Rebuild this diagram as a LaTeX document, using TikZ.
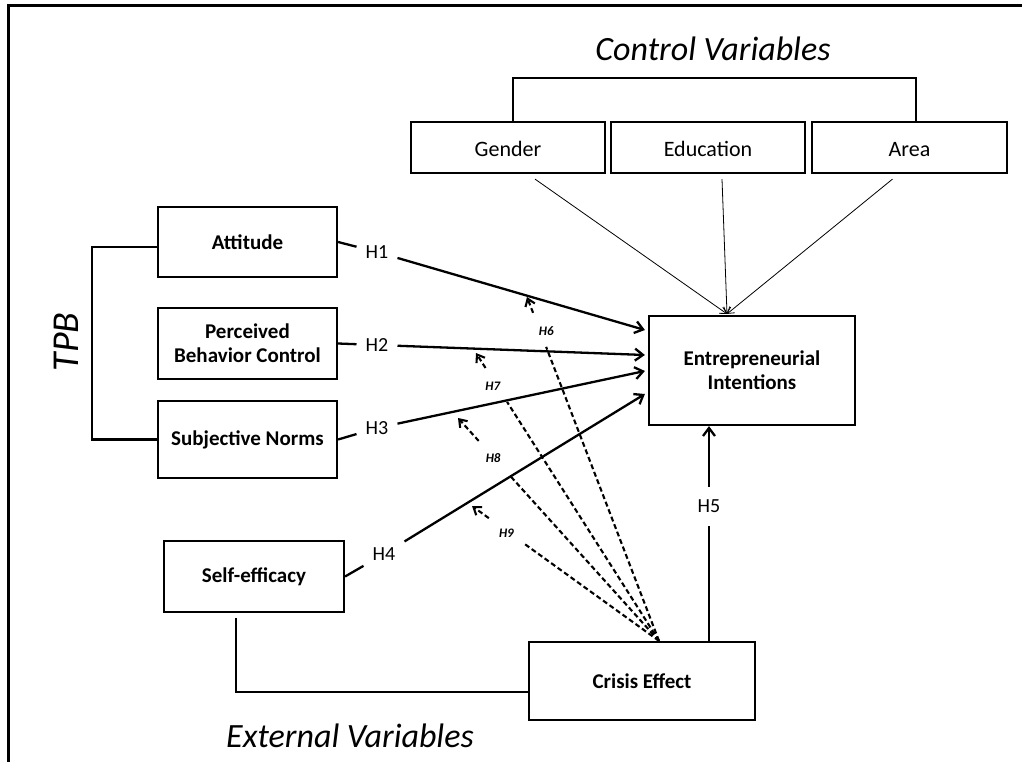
\documentclass[tikz,border=0pt]{standalone}
\usepackage{fontspec}
\setmainfont{Carlito}
\usetikzlibrary{arrows.meta,calc}
\begin{document}
\begin{tikzpicture}[x=1pt,y=-1pt,
  box/.style={draw,line width=2.2pt,inner sep=0pt,align=center,font=\bfseries\fontsize{21}{24}\selectfont},
  cbox/.style={draw,line width=2.2pt,inner sep=0pt,align=center,font=\fontsize{22}{25}\selectfont,minimum width=194pt,minimum height=51pt,text height=20pt,text depth=2pt},
  conn/.style={line width=2.3pt},
  tip/.style={-{Straight Barb[length=8pt,width=12pt]}},
  hlab/.style={font=\fontsize{20}{23}\selectfont,inner xsep=9pt,inner ysep=6pt},
  mlab/.style={font=\bfseries\itshape\fontsize{13}{15}\selectfont,inner sep=1pt},
  dsh/.style={line width=2.1pt,dash pattern=on 5pt off 3pt},
  dtip/.style={-{Straight Barb[length=7pt,width=10pt]}},
  thinarr/.style={line width=0.8pt,-{Straight Barb[length=6pt,width=8pt]}},
  title/.style={font=\itshape\fontsize{34}{38}\selectfont,inner sep=0pt}
]
\useasboundingbox (0,0) rectangle (1022,762);
% frame
\draw[line width=3pt] (8,762) -- (8,6) -- (1022,6);

% titles
\node[title] (cv) at (713,49) {Control Variables};
\node[title] (ev) at (350,736) {External Variables};
\node[title,font=\itshape\fontsize{38}{42}\selectfont,rotate=90] (tpb) at (66,342) {TPB};

% control boxes
\node[cbox] (G) at (508,147.5) {Gender};
\node[cbox] (Ed) at (708,147.5) {Education};
\node[cbox,minimum width=195pt] (Ar) at (909.5,147.5) {Area};

% left boxes
\node[box,minimum width=179pt,minimum height=70pt] (Att) at (247.5,242) {Attitude};
\node[box,minimum width=179pt,minimum height=71pt] (PBC) at (247.5,343.5) {Perceived\\Behavior Control};
\node[box,minimum width=179pt,minimum height=77pt] (SN) at (247.5,439.5) {Subjective Norms};
\node[box,minimum width=180pt,minimum height=71pt] (SE) at (254,576.5) {Self-efficacy};

% main boxes
\node[box,minimum width=206pt,minimum height=109pt] (EI) at (752,370.5) {Entrepreneurial\\Intentions};
\node[box,minimum width=226pt,minimum height=78pt] (CE) at (642,681) {Crisis Effect};

% control bracket
\draw[conn] ($(G.north)+(5,0)$) -- ++(0,-43) -| ($(Ar.north)+(6.5,0)$);
% TPB bracket
\draw[conn] ($(Att.west)+(0,5)$) -- ++(-65,0) |- (SN.west);
% external bracket
\draw[conn] ($(SE.south)+(-18,5)$) |- ($(CE.west)+(0,11)$);

% control arrows
\coordinate (top) at ($(EI.north)+(-25,-1)$);
\draw[thinarr] ($(G.south)+(27,5)$) -- (top);
\draw[thinarr] ($(Ed.south)+(14,5)$) -- (top);
\draw[thinarr] ($(Ar.south)+(-17,5)$) -- (top);

% H labels
\node[hlab] (L1) at (377,252) {H1};
\node[hlab] (L2) at (377,345) {H2};
\node[hlab] (L3) at (377,428) {H3};
\node[hlab] (L4) at (384,554) {H4};

\coordinate (e1) at ($(EI.west)+(-3,-40.5)$);
\coordinate (e2) at ($(EI.west)+(-3,-15.5)$);
\coordinate (e3) at ($(EI.west)+(-3,0.5)$);
\coordinate (e4) at ($(EI.west)+(-3,23.5)$);

\draw[conn] (Att.east) -- (L1);
\draw[conn] (PBC.east) -- (L2);
\draw[conn] (SN.east) -- (L3);
\draw[conn] (SE.east) -- (L4);
\draw[conn,tip] (L1) -- (e1);
\draw[conn,tip] (L2) -- (e2);
\draw[conn,tip] (L3) -- (e3);
\draw[conn,tip] (L4) -- (e4);

% H5
\draw[conn,tip] ($(CE.north)+(67,0)$) -- ($(EI.south)+(-43,0)$)
  node[pos=0.627,fill=white,font=\fontsize{20}{23}\selectfont,inner xsep=3pt,inner ysep=13pt] (L5) {H5};

% moderating dashed arrows
\coordinate (C) at ($(CE.north)+(17,0)$);
\coordinate (P6) at (527,297);
\coordinate (P7) at (476,353);
\coordinate (P8) at (458,418);
\coordinate (P9) at (472,506);

\draw[dsh] (C) -- ($(C)!0.855!(P6)$);
\draw[dsh,dtip] ($(C)!0.954!(P6)$) -- (P6);
\node[mlab] (M6) at ($(C)!0.90!(P6)+(6,0)$) {H6};

\draw[dsh] (C) -- ($(C)!0.83!(P7)$);
\draw[dsh,dtip] ($(C)!0.948!(P7)$) -- (P7);
\node[mlab] (M7) at ($(C)!0.886!(P7)+(-4,0)$) {H7};

\draw[dsh] (C) -- ($(C)!0.746!(P8)$);
\draw[dsh,dtip] ($(C)!0.897!(P8)$) -- (P8);
\node[mlab] (M8) at ($(C)!0.82!(P8)+(-1,0)$) {H8};

\draw[dsh] (C) -- ($(C)!0.72!(P9)$);
\draw[dsh,dtip] ($(C)!0.91!(P9)$) -- (P9);
\node[mlab] (M9) at ($(C)!0.80!(P9)+(-3,0)$) {H9};
\end{tikzpicture}
\end{document}
